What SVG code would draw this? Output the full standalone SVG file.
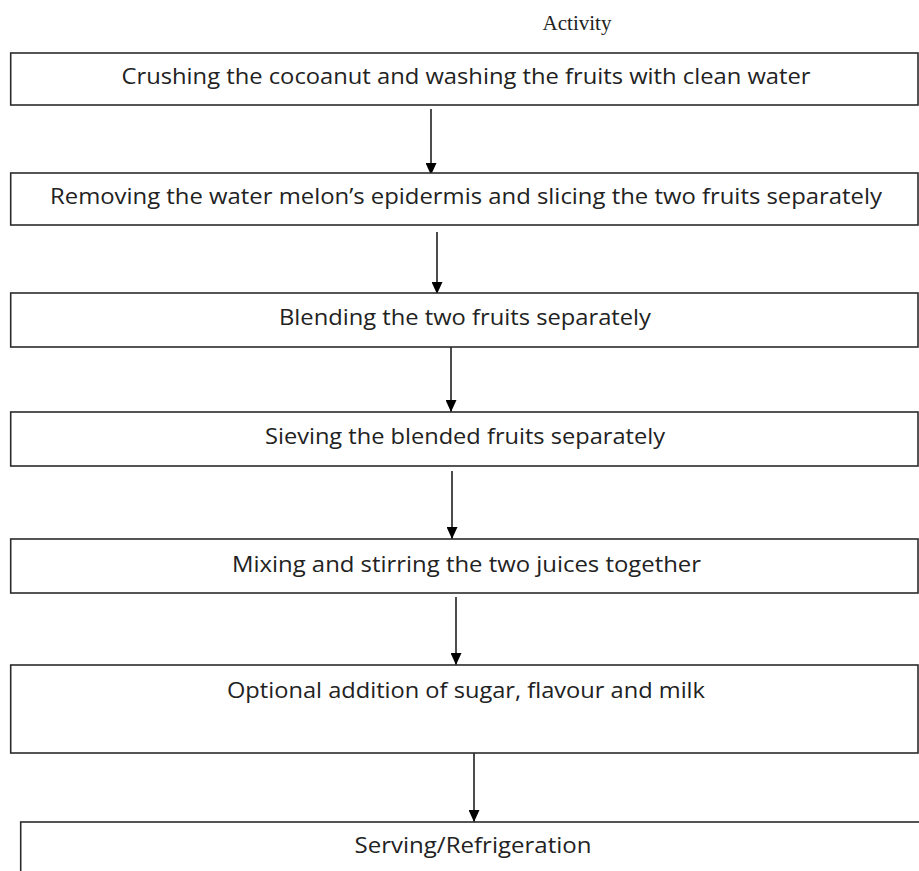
<svg xmlns="http://www.w3.org/2000/svg" width="919" height="871" viewBox="0 0 919 871">
<style>
.box{fill:#ffffff;stroke:#2b2b2b;stroke-width:1.6}
.lbl{font-family:"Open Sans","Noto Sans","Liberation Sans",sans-serif;font-size:21px;fill:#222222;text-anchor:middle}
.title{font-family:"Liberation Serif","DejaVu Serif",serif;font-size:21px;fill:#222222;text-anchor:middle}
.conn{stroke:#000000;stroke-width:1.4;fill:none;marker-end:url(#arr)}
</style>
<defs>
<marker id="arr" markerUnits="userSpaceOnUse" markerWidth="12" markerHeight="11" refX="12" refY="5.5" orient="auto">
<path d="M0,0 L12,5.5 L0,11 Z" fill="#000000"/>
</marker>
</defs>
<rect width="919" height="871" fill="#ffffff"/>
<text class="title" x="577" y="30">Activity</text>
<g id="connectors">
<line class="conn" x1="431" y1="109" x2="431" y2="175"/>
<line class="conn" x1="437" y1="232" x2="437" y2="294"/>
<line class="conn" x1="451" y1="347" x2="451" y2="412"/>
<line class="conn" x1="452" y1="471" x2="452" y2="539"/>
<line class="conn" x1="456" y1="597" x2="456" y2="665"/>
<line class="conn" x1="474" y1="753" x2="474" y2="822"/>
</g>
<g id="n1">
<rect class="box" x="10.7" y="53" width="907.3" height="52"/>
<text class="lbl" x="466" y="84" textLength="689" lengthAdjust="spacingAndGlyphs">Crushing the cocoanut and washing the fruits with clean water</text>
</g>
<g id="n2">
<rect class="box" x="10.7" y="173" width="907.3" height="52"/>
<text class="lbl" x="466" y="204" textLength="832" lengthAdjust="spacingAndGlyphs">Removing the water melon’s epidermis and slicing the two fruits separately</text>
</g>
<g id="n3">
<rect class="box" x="10.7" y="293" width="907.3" height="54"/>
<text class="lbl" x="465" y="325" textLength="372" lengthAdjust="spacingAndGlyphs">Blending the two fruits separately</text>
</g>
<g id="n4">
<rect class="box" x="10.7" y="412" width="907.3" height="54"/>
<text class="lbl" x="465" y="444" textLength="400" lengthAdjust="spacingAndGlyphs">Sieving the blended fruits separately</text>
</g>
<g id="n5">
<rect class="box" x="10.7" y="539" width="907.3" height="54"/>
<text class="lbl" x="466.5" y="572" textLength="469" lengthAdjust="spacingAndGlyphs">Mixing and stirring the two juices together</text>
</g>
<g id="n6">
<rect class="box" x="10.7" y="665" width="907.3" height="88"/>
<text class="lbl" x="466" y="698" textLength="478" lengthAdjust="spacingAndGlyphs">Optional addition of sugar, flavour and milk</text>
</g>
<g id="n7">
<rect class="box" x="20.7" y="822" width="920" height="70"/>
<text class="lbl" x="473" y="853" textLength="237" lengthAdjust="spacingAndGlyphs">Serving/Refrigeration</text>
</g>
</svg>
